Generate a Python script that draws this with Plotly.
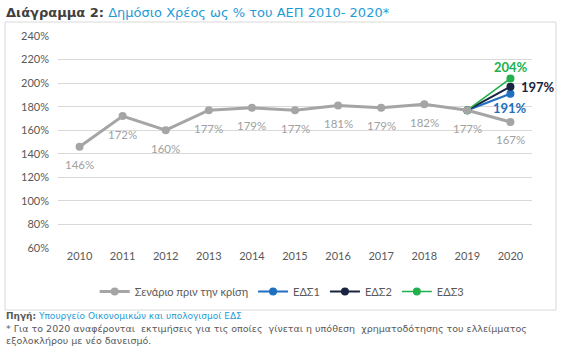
import plotly.graph_objects as go

years = [2010, 2011, 2012, 2013, 2014, 2015, 2016, 2017, 2018, 2019, 2020]
baseline = [146, 172, 160, 177, 179, 177, 181, 179, 182, 177, 167]
esd_years = [2019, 2020]
esd1 = [177, 191]
esd2 = [177, 197]
esd3 = [177, 204]
y_ticks = [60, 80, 100, 120, 140, 160, 180, 200, 220, 240]

FONT = "Lato"
GREY = "#A5A5A5"
fig = go.Figure()
labels = []

def esd_trace(name, vals, color, width, rank, xs, ys, xa):
    labels.append(dict(x=years.index(esd_years[-1]), y=vals[-1], xref="x", yref="y",
                       text=f"<b>{vals[-1]}%</b>", showarrow=False,
                       xshift=xs, yshift=ys, xanchor=xa, yanchor="middle",
                       font=dict(family=FONT, size=13, color=color)))
    return go.Scatter(
        x=[str(y) for y in esd_years], y=vals, name=name, mode="lines+markers",
        line=dict(color=color, width=width),
        marker=dict(size=8, color=color),
        legendrank=rank, cliponaxis=False,
    )

fig.add_trace(esd_trace("ΕΔΣ1", esd1, "#1F6FC0", 2, 2, 0, -14, "center"))
fig.add_trace(esd_trace("ΕΔΣ2", esd2, "#1A2440", 2, 3, 9, 0, "left"))
fig.add_trace(esd_trace("ΕΔΣ3", esd3, "#21B04B", 1.5, 4, 1, 11, "center"))

fig.add_trace(go.Scatter(
    x=[str(y) for y in years], y=baseline, name="Σενάριο πριν την κρίση",
    mode="lines+markers",
    line=dict(color=GREY, width=3), marker=dict(size=8, color=GREY),
    legendrank=1, cliponaxis=False,
))
for i, v in enumerate(baseline):
    labels.append(dict(x=i, y=v, xref="x", yref="y", text=f"{v}%",
                       showarrow=False, yshift=-18, xanchor="center", yanchor="middle",
                       font=dict(family=FONT, size=11.5, color="#A0A0A0")))

fig.update_layout(
    width=565, height=354,
    margin=dict(l=58, r=33, t=36, b=106),
    plot_bgcolor="white", paper_bgcolor="white",
    font=dict(family=FONT, size=11, color="#595959"),
    xaxis=dict(type="category", categoryorder="array",
               categoryarray=[str(y) for y in years], range=[-0.5, 10.5],
               showgrid=False, showline=False,
               ticks="", tickfont=dict(size=11, color="#595959")),
    yaxis=dict(range=[60, 240], tickvals=y_ticks, ticktext=[f"{v}%" for v in y_ticks],
               showgrid=True, gridcolor="#D9D9D9", gridwidth=1, zeroline=False,
               showline=False, tickfont=dict(size=11, color="#595959"), ticklabelstandoff=8),
    showlegend=True,
    legend=dict(orientation="h", x=0.473, xanchor="center", y=-0.205, yanchor="middle",
                font=dict(family=FONT, size=11, color="#595959"), itemwidth=30,
                tracegroupgap=0),
    shapes=[dict(type="rect", xref="paper", yref="paper", x0=-0.1118, x1=1.0506,
                 y0=-0.2925, y1=1.066, line=dict(color="#D9D9D9", width=1),
                 fillcolor="rgba(0,0,0,0)", layer="below")],
    annotations=labels + [
        dict(xref="paper", yref="paper", x=-0.113, y=1.113, xanchor="left", yanchor="middle",
             showarrow=False,
             text="<b>Διάγραμμα 2:</b> <span style='color:#1E9BD7'>Δημόσιο Χρέος ως % του ΑΕΠ 2010- 2020*</span>",
             font=dict(family="DejaVu Sans", size=13, color="#404040")),
        dict(xref="paper", yref="paper", x=-0.113, y=-0.322, xanchor="left", yanchor="middle",
             showarrow=False,
             text="<b>Πηγή:</b> <span style='color:#1E9BD7'>Υπουργείο Οικονομικών και υπολογισμοί ΕΔΣ</span>",
             font=dict(family="DejaVu Sans", size=9, color="#595959")),
        dict(xref="paper", yref="paper", x=-0.113, y=-0.378, xanchor="left", yanchor="middle",
             showarrow=False,
             text="* Για το 2020 αναφέρονται  εκτιμήσεις για τις οποίες  γίνεται η υπόθεση  χρηματοδότησης του ελλείμματος",
             font=dict(family="DejaVu Sans", size=9.5, color="#595959")),
        dict(xref="paper", yref="paper", x=-0.113, y=-0.434, xanchor="left", yanchor="middle",
             showarrow=False, text="εξολοκλήρου με νέο δανεισμό.",
             font=dict(family="DejaVu Sans", size=9.5, color="#595959")),
    ],
)

fig.write_html("out.html")
